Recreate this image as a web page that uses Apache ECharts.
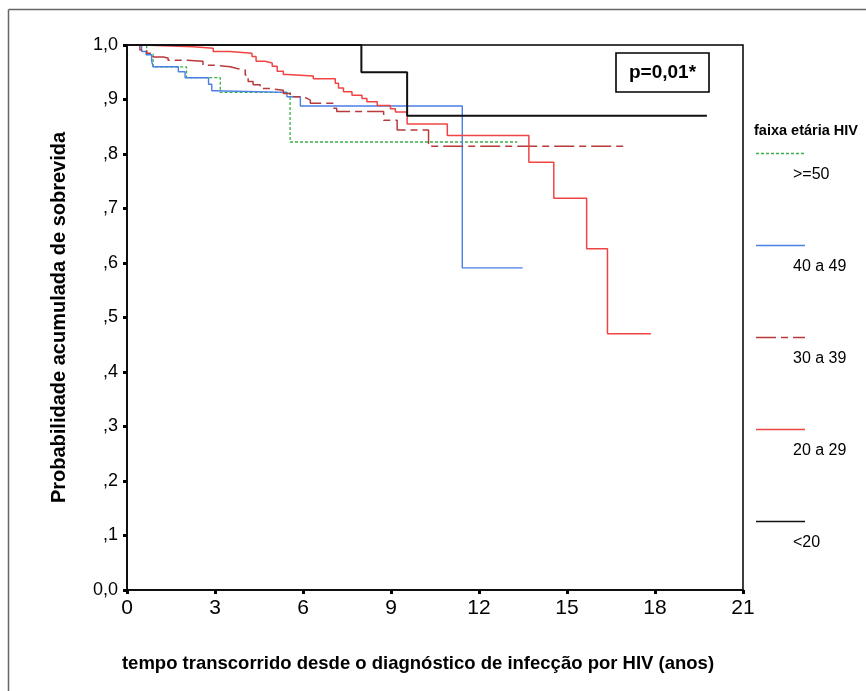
<!DOCTYPE html>
<html><head><meta charset="utf-8">
<script src="https://cdn.jsdelivr.net/npm/echarts@6.0.0/dist/echarts.min.js"></script>
<style>html,body{margin:0;padding:0;background:#fff}#c{width:866px;height:691px}</style>
</head><body><div id="c"></div>
<script>
// ---- data ----
const groupNames = ['>=50', '40 a 49', '30 a 39', '20 a 29', '<20'];
const legendTitle = 'faixa etária HIV';
const xTitle = 'tempo transcorrido desde o diagnóstico de infecção por HIV (anos)';
const yTitle = 'Probabilidade acumulada de sobrevida';
const pText = 'p=0,01*';
const yTickLabels = ['0,0', ',1', ',2', ',3', ',4', ',5', ',6', ',7', ',8', ',9', '1,0'];

const t50 = [0, 0.67, 0.89, 2.03, 3.18, 5.56, 13.3];
const s50 = [1, 0.983, 0.96, 0.94, 0.913, 0.822, 0.822];

const t40 = [0, 0.5, 0.65, 0.84, 0.89, 1.75, 1.98, 2.78, 2.89, 2.98, 5.45, 5.91, 11.43, 13.49];
const s40 = [1, 0.988, 0.982, 0.971, 0.96, 0.951, 0.94, 0.928, 0.916, 0.913, 0.905, 0.888, 0.591, 0.591];

const t30 = [0, 0.44, 0.67, 0.89, 1.23, 1.40, 2.04, 2.59, 2.94, 3.52, 3.75, 4.03, 4.13, 4.30, 4.54, 4.88, 5.33, 5.57, 6.01, 6.14, 6.25, 7.03, 7.15, 8.75, 9.21, 10.28, 17.06];
const s30 = [1, 0.991, 0.985, 0.978, 0.976, 0.972, 0.97, 0.963, 0.96, 0.957, 0.954, 0.945, 0.933, 0.927, 0.92, 0.917, 0.911, 0.905, 0.902, 0.899, 0.893, 0.884, 0.878, 0.862, 0.844, 0.814, 0.814];

const t20 = [0, 0.5, 2.26, 2.94, 3.5, 4.26, 4.40, 4.71, 4.95, 5.12, 5.33, 5.46, 6.35, 7.10, 7.21, 7.38, 7.67, 8.01, 8.18, 8.53, 8.98, 9.15, 9.55, 10.92, 13.70, 14.55, 15.67, 16.38, 17.86];
const s20 = [1, 0.997, 0.994, 0.988, 0.985, 0.979, 0.97, 0.967, 0.961, 0.952, 0.946, 0.943, 0.938, 0.93, 0.921, 0.914, 0.908, 0.902, 0.896, 0.889, 0.883, 0.877, 0.855, 0.834, 0.785, 0.719, 0.626, 0.47, 0.47];

const tU20 = [0, 7.99, 9.55, 19.77];
const sU20 = [1, 0.95, 0.87, 0.87];

// ---- styles ----
const styles = [
  {color: '#3aae48', width: 1.3, type: [3, 2]},
  {color: '#4a7fe6', width: 1.4, type: 'solid'},
  {color: '#b83a3a', width: 1.5, type: [20, 5, 7, 5]},
  {color: '#f04444', width: 1.5, type: 'solid'},
  {color: '#111111', width: 2, type: 'solid'}
];
const tArr = [t50, t40, t30, t20, tU20];
const sArr = [s50, s40, s30, s20, sU20];

const zip = (t, s) => t.map((v, i) => [v, s[i]]);

const series = groupNames.map((n, i) => ({
  name: n, type: 'line', step: 'end', showSymbol: false, symbol: 'none',
  data: zip(tArr[i], sArr[i]),
  lineStyle: {color: styles[i].color, width: styles[i].width, type: styles[i].type},
  itemStyle: {color: styles[i].color},
  z: 3 + i, silent: true
}));

const FONT = '"Liberation Sans", Arial, sans-serif';
const graphics = [];
// outer frame (left and top visible)
graphics.push({type: 'line', shape: {x1: 8.5, y1: 9.5, x2: 8.5, y2: 691}, style: {stroke: '#666', lineWidth: 1.5}});
graphics.push({type: 'line', shape: {x1: 8.5, y1: 9.5, x2: 866, y2: 9.5}, style: {stroke: '#666', lineWidth: 1.5}});
// p-value box
graphics.push({type: 'rect', shape: {x: 616, y: 53, width: 93, height: 39}, style: {fill: '#fff', stroke: '#000', lineWidth: 1.6}, z: 20});
graphics.push({type: 'text', x: 662.5, y: 73, style: {text: pText, font: 'bold 19px ' + FONT, fill: '#000', align: 'center', verticalAlign: 'middle'}, z: 21});
// legend
graphics.push({type: 'text', x: 754, y: 131, style: {text: legendTitle, font: 'bold 14.5px ' + FONT, fill: '#000', align: 'left', verticalAlign: 'middle'}});
groupNames.forEach((n, i) => {
  const ly = 153.5 + i * 92;
  graphics.push({type: 'line', shape: {x1: 756, y1: ly, x2: 805, y2: ly}, style: {stroke: styles[i].color, lineWidth: 1.5, lineDash: Array.isArray(styles[i].type) ? styles[i].type : null}});
  graphics.push({type: 'text', x: 793, y: ly + 21, style: {text: n, font: '16px ' + FONT, fill: '#000', align: 'left', verticalAlign: 'middle'}});
});
// x title
graphics.push({type: 'text', x: 418, y: 664, style: {text: xTitle, font: 'bold 18.5px ' + FONT, fill: '#000', align: 'center', verticalAlign: 'middle'}});

const chart = echarts.init(document.getElementById('c'), null, {renderer: 'canvas'});
chart.setOption({
  animation: false,
  backgroundColor: '#fff',
  grid: {left: 127, right: 123, top: 45, bottom: 101, show: true, borderColor: '#000', borderWidth: 1.5, backgroundColor: 'transparent'},
  xAxis: {
    type: 'value', min: 0, max: 21, interval: 3,
    axisLine: {show: true, lineStyle: {color: '#000', width: 1.5}},
    axisTick: {show: true, length: 4, lineStyle: {color: '#000', width: 3}},
    axisLabel: {margin: 8, color: '#000', fontSize: 21, fontFamily: FONT},
    splitLine: {show: false}
  },
  yAxis: {
    type: 'value', min: 0, max: 1, interval: 0.1,
    name: yTitle, nameLocation: 'middle', nameGap: 58, nameRotate: 90,
    nameTextStyle: {fontSize: 20, fontWeight: 'bold', color: '#000', fontFamily: FONT},
    axisLine: {show: true, lineStyle: {color: '#000', width: 1.5}},
    axisTick: {show: true, length: 4, lineStyle: {color: '#000', width: 3}},
    axisLabel: {margin: 9, color: '#000', fontSize: 18, fontFamily: FONT,
      formatter: v => yTickLabels[Math.round(v * 10)]},
    splitLine: {show: false}
  },
  graphic: graphics,
  series: series
});
</script></body></html>
